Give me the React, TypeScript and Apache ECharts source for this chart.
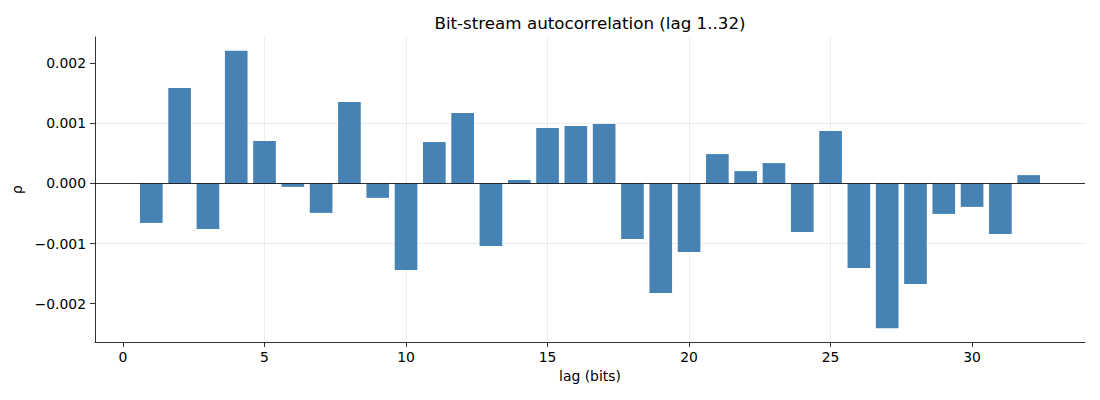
import { useEffect, useRef } from 'react';
import * as echarts from 'echarts';

// autocorrelation per lag
const lags = [
  1, 2, 3, 4, 5, 6, 7, 8, 9, 10, 11, 12, 13, 14, 15, 16,
  17, 18, 19, 20, 21, 22, 23, 24, 25, 26, 27, 28, 29, 30, 31, 32,
];
const rho = [
  -0.000656, 0.001589, -0.000756, 0.002206, 0.000706, -0.000056, -0.000489, 0.001356,
  -0.000239, -0.001439, 0.000689, 0.001172, -0.001039, 0.000056, 0.000922, 0.000956,
  0.000989, -0.000922, -0.001822, -0.001139, 0.000489, 0.000206, 0.000339, -0.000806,
  0.000872, -0.001406, -0.002406, -0.001672, -0.000506, -0.000389, -0.000839, 0.000139,
];
const xTicks = [0, 5, 10, 15, 20, 25, 30];
const yTicks = [-0.002, -0.001, 0, 0.001, 0.002];

const BAR_W = 0.8;
const BAR_COLOR = '#4682b4';
const FONT = 'DejaVu Sans';

function fmtY(v: number): string {
  const s = Math.abs(v).toFixed(3);
  return v < -1e-9 ? '\u2212' + s : s;
}

export default function App() {
  const chartRef = useRef<HTMLDivElement>(null);

  useEffect(() => {
    document.body.style.margin = '0';
    if (!chartRef.current) return;
    const chart = echarts.init(chartRef.current, undefined, { renderer: 'svg' });

    // matplotlib-style 5% margins around the data
    const dMin = Math.min(...rho, 0);
    const dMax = Math.max(...rho, 0);
    const yPad = (dMax - dMin) * 0.05;
    const xLo = lags[0] - BAR_W / 2;
    const xHi = lags[lags.length - 1] + BAR_W / 2;
    const xPad = (xHi - xLo) * 0.05;

    const gridLine = { show: true, showMinLine: false, showMaxLine: false, lineStyle: { color: '#b0b0b0', opacity: 0.3, width: 0.8 } };

    chart.setOption({
      animation: false,
      title: {
        text: 'Bit-stream autocorrelation (lag 1..32)',
        left: 590,
        top: 14,
        padding: 0,
        textAlign: 'center',
        textStyle: { fontFamily: FONT, fontSize: 16.7, fontWeight: 'normal', color: '#000' },
      },
      grid: { left: 95, right: 15, top: 37, bottom: 58 },
      xAxis: {
        type: 'value',
        min: xLo - xPad,
        max: xHi + xPad,
        name: 'lag (bits)',
        nameLocation: 'middle',
        nameGap: 27,
        nameTextStyle: { fontFamily: FONT, fontSize: 13.9, color: '#000' },
        axisLine: { onZero: false, lineStyle: { color: '#000', width: 0.8 } },
        axisTick: { show: true, length: 5, customValues: xTicks, lineStyle: { color: '#000', width: 0.8 } },
        axisLabel: { customValues: xTicks, margin: 8, fontFamily: FONT, fontSize: 13.9, color: '#000' },
        splitLine: gridLine,
      },
      yAxis: {
        type: 'value',
        min: dMin - yPad,
        max: dMax + yPad,
        name: '\u03c1',
        nameLocation: 'middle',
        nameGap: 63,
        nameTextStyle: { fontFamily: FONT, fontSize: 13.9, color: '#000' },
        axisLine: { show: true, onZero: false, lineStyle: { color: '#000', width: 0.8 } },
        axisTick: { show: true, length: 5, customValues: yTicks, lineStyle: { color: '#000', width: 0.8 } },
        axisLabel: {
          customValues: yTicks,
          margin: 9,
          fontFamily: FONT,
          fontSize: 13.9,
          color: '#000',
          formatter: (v: number) => fmtY(v),
        },
        splitLine: gridLine,
      },
      series: [
        {
          type: 'custom',
          data: lags.map((l, i) => [l, rho[i]]),
          encode: { x: 0, y: 1 },
          renderItem: (_params: any, api: any) => {
            const x = api.value(0);
            const v = api.value(1);
            const p0 = api.coord([x - BAR_W / 2, v]);
            const p1 = api.coord([x + BAR_W / 2, 0]);
            return {
              type: 'rect',
              shape: {
                x: p0[0],
                y: Math.min(p0[1], p1[1]),
                width: p1[0] - p0[0],
                height: Math.abs(p1[1] - p0[1]),
              },
              style: { fill: BAR_COLOR },
            };
          },
          markLine: {
            silent: true,
            symbol: 'none',
            label: { show: false },
            lineStyle: { color: '#000', width: 0.8, type: 'solid' },
            data: [{ yAxis: 0 }],
          },
        },
      ],
    });

    return () => chart.dispose();
  }, []);

  return <div ref={chartRef} style={{ width: 1100, height: 400 }} />;
}
